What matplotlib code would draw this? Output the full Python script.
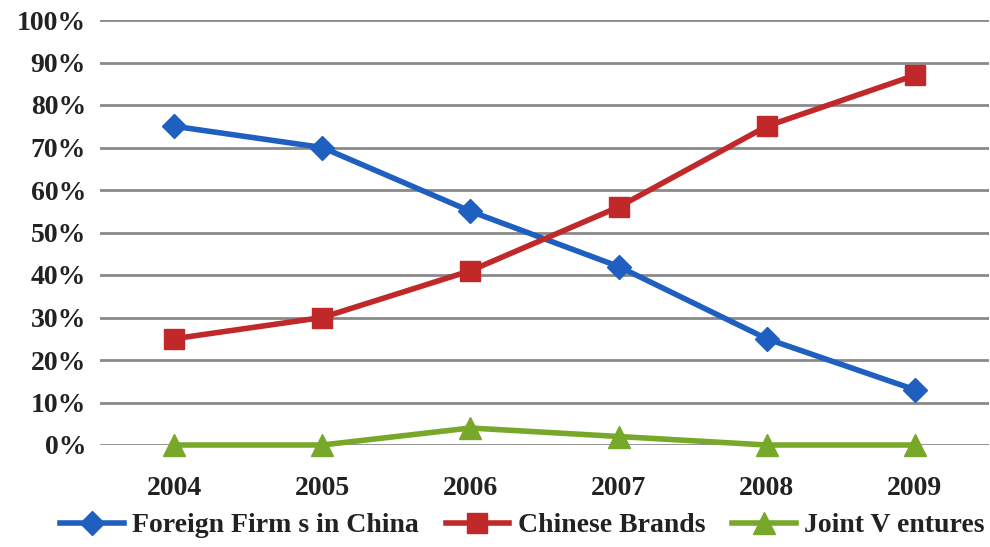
import matplotlib
matplotlib.use("Agg")
import matplotlib.pyplot as plt

years = ["2004", "2005", "2006", "2007", "2008", "2009"]
foreign = [75, 70, 55, 42, 25, 13]
chinese = [25, 30, 41, 56, 75, 87]
joint = [0, 0, 4, 2, 0, 0]
yticks = list(range(0, 101, 10))

plt.rcParams['font.family'] = ['Liberation Serif', 'DejaVu Serif']

fig = plt.figure(figsize=(9.9, 5.47), dpi=100)
ax = fig.add_axes([100/990, 1 - 445/547, 889/990, 425/547])

x = list(range(len(years)))
ax.plot(x, foreign, color="#1F5FBF", lw=4, marker="D", ms=12, label="Foreign Firm s in China", zorder=3, clip_on=False)
ax.plot(x, chinese, color="#C0282A", lw=4, marker="s", ms=14, label="Chinese Brands", zorder=3, clip_on=False)
ax.plot(x, joint, color="#78A82A", lw=4, marker="^", ms=16, label="Joint V entures", zorder=3, clip_on=False)

ax.set_xlim(-0.5, len(years) - 0.5)
ax.set_ylim(0, 100)
ax.set_yticks(yticks)
ax.set_yticklabels([f"{v}%" for v in yticks])
ax.set_xticks(x)
ax.set_xticklabels(years)
ax.yaxis.grid(True, color="#8a8a8a", lw=2)
ax.set_axisbelow(True)
for s in ax.spines.values():
    s.set_visible(False)
ax.tick_params(length=0, labelsize=20, pad=10)
for lab in ax.get_xticklabels() + ax.get_yticklabels():
    lab.set_fontweight("bold")
    lab.set_color("#222222")
ax.tick_params(axis="x", pad=22)

leg = ax.legend(loc="center", bbox_to_anchor=(0.475, -0.19), ncol=3, frameon=False,
                prop={"size": 20, "weight": "bold"}, handlelength=2.3, columnspacing=0.95,
                handletextpad=0.3)
for t in leg.get_texts():
    t.set_color("#222222")
fig.savefig("out.png", dpi=100)
